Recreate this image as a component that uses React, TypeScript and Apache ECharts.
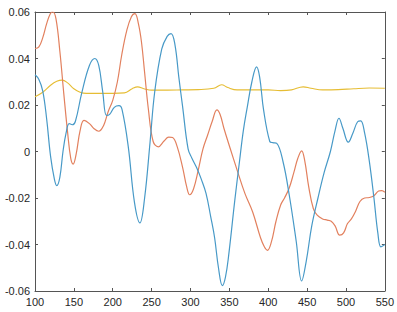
import React, { useEffect, useRef } from "react";
import * as echarts from "echarts";

const xTicks = [100, 150, 200, 250, 300, 350, 400, 450, 500, 550];
const yTicks = [-0.06, -0.04, -0.02, 0, 0.02, 0.04, 0.06];

const blueSeries: [number, number][] = [
  [100, 0.033], [105, 0.031], [110, 0.026], [115, 0.014], [120, -0.002], [125, -0.012],
  [128, -0.0147], [132, -0.011], [136, 0.0], [140, 0.008], [144, 0.012], [148, 0.0115],
  [152, 0.013], [160, 0.025], [170, 0.037], [177, 0.04], [182, 0.037], [187, 0.026],
  [192, 0.0155], [196, 0.016], [202, 0.019], [208, 0.0197], [212, 0.018], [220, 0.002],
  [228, -0.022], [235, -0.0307], [241, -0.02], [248, 0.004], [254, 0.0257], [263, 0.044],
  [270, 0.0495], [275, 0.0507], [280, 0.046], [285, 0.032], [290, 0.019], [297, 0.001],
  [302, -0.003], [308, -0.007], [314, -0.012], [320, -0.018], [326, -0.028], [331, -0.037],
  [336, -0.05], [341, -0.0577], [345, -0.054], [349, -0.045], [357, -0.021], [363, -0.0044],
  [368, 0.009], [373, 0.019], [379, 0.03], [385, 0.0364], [389, 0.032], [394, 0.018],
  [402, 0.0043], [406, 0.0038], [411, 0.0035], [419, -0.0043], [427, -0.0186], [436, -0.0386],
  [443, -0.0557], [449, -0.047], [456, -0.032], [464, -0.02], [472, -0.009], [480, 0.0],
  [486, 0.009], [491, 0.0143], [496, 0.01], [503, 0.004], [509, 0.008], [515, 0.0128],
  [519, 0.0132], [524, 0.008], [530, -0.004], [536, -0.02], [541, -0.035], [545, -0.041],
  [550, -0.04],
];

const orangeSeries: [number, number][] = [
  [100, 0.0443], [105, 0.045], [110, 0.049], [115, 0.055], [120, 0.0595], [123, 0.06],
  [127, 0.057], [132, 0.043], [137, 0.025], [142, 0.008], [146, -0.003], [149, -0.0054],
  [153, -0.001], [158, 0.009], [163, 0.0134], [170, 0.012], [176, 0.0098], [182, 0.0087],
  [188, 0.011], [194, 0.017], [200, 0.022], [206, 0.03], [211.5, 0.0414], [218, 0.052],
  [224, 0.058], [228.6, 0.0593], [233, 0.055], [237, 0.047], [241, 0.034], [245.7, 0.0186],
  [252, 0.0043], [258.5, 0.002], [266, 0.0045], [272, 0.0062], [277, 0.006], [283, 0.002],
  [290, -0.007], [295, -0.015], [299, -0.0186], [304, -0.016], [310, -0.008], [316, 0.001],
  [322, 0.007], [328, 0.013], [334, 0.0179], [338, 0.016], [343, 0.01], [351, 0.0014],
  [360, -0.008], [370, -0.018], [380, -0.026], [390, -0.037], [395, -0.041], [399, -0.0425],
  [404, -0.039], [410, -0.03], [416, -0.023], [421, -0.02], [427, -0.0157], [433, -0.009],
  [438, -0.003], [443, 0.0003], [447, -0.004], [452, -0.015], [458, -0.0245], [463, -0.0274],
  [470, -0.029], [476, -0.0295], [481, -0.03], [486, -0.032], [492, -0.036], [497, -0.035],
  [502, -0.031], [507, -0.029], [512, -0.026], [518, -0.0215], [524, -0.02], [530, -0.0198],
  [536, -0.019], [542, -0.017], [546, -0.0168], [550, -0.0175],
];

const yellowSeries: [number, number][] = [
  [100, 0.0236], [110, 0.0255], [120, 0.0285], [128, 0.0302], [135, 0.0307], [142, 0.0295],
  [150, 0.027], [158, 0.0255], [166, 0.025], [180, 0.025], [200, 0.025], [215, 0.0252],
  [225, 0.027], [232, 0.0278], [240, 0.027], [250, 0.0264], [270, 0.0264], [290, 0.0265],
  [310, 0.0266], [330, 0.0272], [340, 0.0287], [348, 0.0275], [360, 0.0265], [380, 0.0265],
  [400, 0.0265], [416, 0.0262], [430, 0.0265], [445, 0.0278], [455, 0.0272], [470, 0.0265],
  [490, 0.0266], [510, 0.027], [530, 0.0273], [550, 0.0272],
];

const AXIS_COLOR = "#555555";
const LABEL_COLOR = "#262626";

function fmtY(v: number): string {
  const r = Math.round(v * 100) / 100;
  if (Math.abs(r) < 1e-9) return "0";
  return r.toFixed(2);
}

export default function App() {
  const ref = useRef<HTMLDivElement>(null);
  useEffect(() => {
    document.body.style.margin = "0";
    if (!ref.current) return;
    const chart = echarts.init(ref.current, undefined, { renderer: "svg" });
    const axisCommon = {
      axisLine: { show: true, onZero: false, lineStyle: { color: AXIS_COLOR, width: 1 } },
      axisTick: { show: true, inside: true, length: 3, lineStyle: { color: AXIS_COLOR } },
      splitLine: { show: false },
    };
    const labelStyle = {
      color: LABEL_COLOR,
      fontFamily: "Liberation Sans, Arial, sans-serif",
      fontSize: 11,
      margin: 5,
    };
    chart.setOption({
      animation: false,
      backgroundColor: "#ffffff",
      grid: { left: 35, right: 8, top: 12, bottom: 21, containLabel: false },
      xAxis: [
        {
          type: "value",
          position: "bottom",
          min: xTicks[0],
          max: xTicks[xTicks.length - 1],
          interval: 50,
          ...axisCommon,
          axisLabel: { ...labelStyle, formatter: (v: number) => String(Math.round(v)) },
        },
        {
          type: "value",
          position: "top",
          min: xTicks[0],
          max: xTicks[xTicks.length - 1],
          interval: 50,
          ...axisCommon,
          axisLabel: { show: false },
        },
      ],
      yAxis: [
        {
          type: "value",
          position: "left",
          min: yTicks[0],
          max: yTicks[yTicks.length - 1],
          interval: 0.02,
          ...axisCommon,
          axisLabel: { ...labelStyle, formatter: fmtY },
        },
        {
          type: "value",
          position: "right",
          min: yTicks[0],
          max: yTicks[yTicks.length - 1],
          interval: 0.02,
          ...axisCommon,
          axisLabel: { show: false },
        },
      ],
      series: [
        {
          type: "line",
          data: blueSeries,
          showSymbol: false,
          smooth: 0.4,
          lineStyle: { color: "#4799c7", width: 1.2 },
          z: 3,
        },
        {
          type: "line",
          data: orangeSeries,
          showSymbol: false,
          smooth: 0.4,
          lineStyle: { color: "#e2805e", width: 1.2 },
          z: 2,
        },
        {
          type: "line",
          data: yellowSeries,
          showSymbol: false,
          smooth: 0.4,
          lineStyle: { color: "#e6bd34", width: 1.1 },
          z: 1,
        },
      ],
    });
    return () => chart.dispose();
  }, []);
  return <div ref={ref} style={{ width: 397, height: 312 }} />;
}
